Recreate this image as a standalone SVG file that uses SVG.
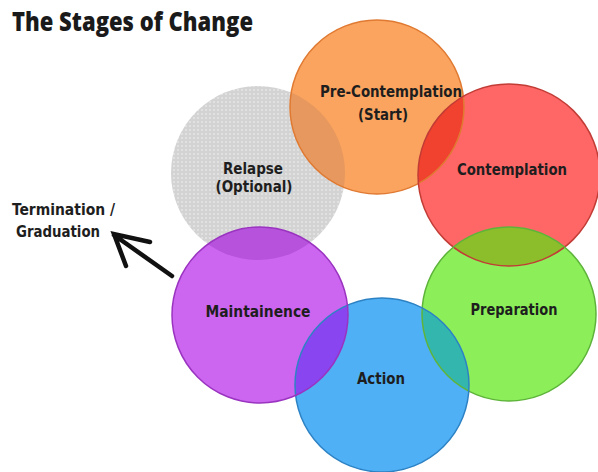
<svg xmlns="http://www.w3.org/2000/svg" width="598" height="472" viewBox="0 0 598 472">
  <style>
    .lbl { font-family: "DejaVu Sans Condensed", "DejaVu Sans", "Liberation Sans", sans-serif; font-weight: bold; font-size: 16.5px; fill: #1e1e1e; text-anchor: middle; }
    .side { font-family: "DejaVu Sans Condensed", "Open Sans", "Liberation Sans", sans-serif; font-weight: bold; font-size: 16px; fill: #1e1e1e; }
    .title { font-family: "Open Sans", "Liberation Sans", sans-serif; font-weight: 800; font-size: 26px; fill: #1a1a1a; }
    .edge { fill: none; stroke-width: 1.5; }
  </style>
  <defs>
    <pattern id="dots" width="4" height="4" patternUnits="userSpaceOnUse">
      <rect width="4" height="4" fill="#d3d3d3"/>
      <circle cx="2" cy="2" r="0.8" fill="#f4f4f4"/>
    </pattern>
    <clipPath id="cRel"><circle cx="258" cy="173" r="87"/></clipPath>
    <clipPath id="cPre"><circle cx="377" cy="107" r="87"/></clipPath>
    <clipPath id="cCon"><circle cx="509" cy="175" r="91"/></clipPath>
    <clipPath id="cPrep"><circle cx="509" cy="314" r="87"/></clipPath>
    <clipPath id="cAct"><circle cx="382" cy="385" r="87"/></clipPath>
    <clipPath id="cMai"><circle cx="260" cy="315" r="88"/></clipPath>
  </defs>
  <rect width="598" height="472" fill="#ffffff"/>

  <text class="title" x="12" y="31" textLength="241" lengthAdjust="spacingAndGlyphs">The Stages of Change</text>

  <g id="relapse">
    <circle cx="258" cy="173" r="87" fill="url(#dots)"/>
  </g>
  <g id="pre-contemplation">
    <circle cx="377" cy="107" r="87" fill="#fba45f"/>
  </g>
  <g id="contemplation">
    <circle cx="509" cy="175" r="91" fill="#ff6666"/>
  </g>
  <g id="preparation">
    <circle cx="509" cy="314" r="87" fill="#8cef5a"/>
  </g>
  <g id="action">
    <circle cx="382" cy="385" r="87" fill="#4fb0f6"/>
  </g>
  <g id="maintainence">
    <circle cx="260" cy="315" r="88" fill="#cc66f0"/>
  </g>

  <g id="overlaps">
    <circle cx="377" cy="107" r="87" fill="#e7985e" clip-path="url(#cRel)"/>
    <circle cx="509" cy="175" r="91" fill="#f0422e" clip-path="url(#cPre)"/>
    <circle cx="509" cy="314" r="87" fill="#8cbd2a" clip-path="url(#cCon)"/>
    <circle cx="382" cy="385" r="87" fill="#33b6ae" clip-path="url(#cPrep)"/>
    <circle cx="260" cy="315" r="88" fill="#8845f0" clip-path="url(#cAct)"/>
    <circle cx="260" cy="315" r="88" fill="#b652dc" clip-path="url(#cRel)"/>
  </g>

  <g id="outlines">
    <circle class="edge" cx="377" cy="107" r="87" stroke="#e07a32"/>
    <circle class="edge" cx="509" cy="175" r="91" stroke="#c23c36"/>
    <circle class="edge" cx="509" cy="314" r="87" stroke="#5eb43a"/>
    <circle class="edge" cx="382" cy="385" r="87" stroke="#2d82c4"/>
    <circle class="edge" cx="260" cy="315" r="88" stroke="#9a34c0"/>
  </g>

  <g id="labels">
    <text class="lbl" x="391" y="97" textLength="142" lengthAdjust="spacingAndGlyphs">Pre-Contemplation</text>
    <text class="lbl" x="383" y="120" textLength="50" lengthAdjust="spacingAndGlyphs">(Start)</text>
    <text class="lbl" x="512" y="175" textLength="110" lengthAdjust="spacingAndGlyphs">Contemplation</text>
    <text class="lbl" x="514" y="315" textLength="87" lengthAdjust="spacingAndGlyphs">Preparation</text>
    <text class="lbl" x="381" y="384" textLength="48" lengthAdjust="spacingAndGlyphs">Action</text>
    <text class="lbl" x="258" y="317" textLength="105" lengthAdjust="spacingAndGlyphs">Maintainence</text>
    <text class="lbl" x="253" y="174" textLength="60" lengthAdjust="spacingAndGlyphs">Relapse</text>
    <text class="lbl" x="254" y="192" textLength="77" lengthAdjust="spacingAndGlyphs">(Optional)</text>
  </g>

  <g id="termination">
    <text class="side" x="12" y="215" textLength="103" lengthAdjust="spacingAndGlyphs">Termination /</text>
    <text class="side" x="16" y="237" textLength="84" lengthAdjust="spacingAndGlyphs">Graduation</text>
  </g>

  <g id="connectors">
    <path d="M172,276 L114,235 M150,242 L114,234 L126,266" fill="none" stroke="#111" stroke-width="4.5" stroke-linecap="round" stroke-linejoin="miter"/>
  </g>
</svg>
